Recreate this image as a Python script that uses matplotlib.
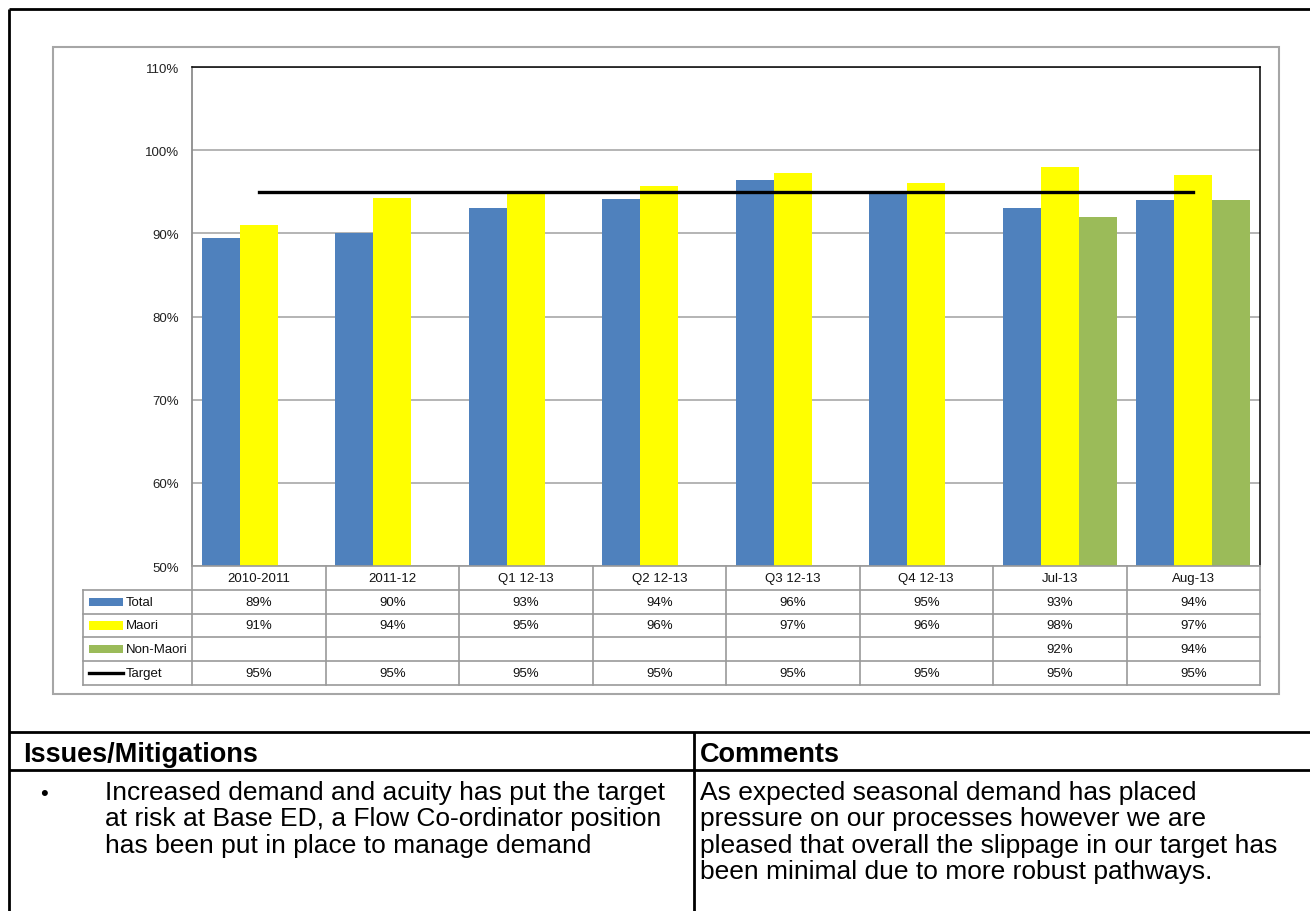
import numpy as np
import matplotlib
matplotlib.use("Agg")
import matplotlib.pyplot as plt
from matplotlib.patches import Rectangle
from matplotlib.lines import Line2D

plt.rcParams["font.family"] = ["Liberation Sans", "DejaVu Sans"]

categories = ["2010-2011", "2011-12", "Q1 12-13", "Q2 12-13", "Q3 12-13", "Q4 12-13", "Jul-13", "Aug-13"]
total = [0.894, 0.901, 0.931, 0.941, 0.964, 0.950, 0.930, 0.940]
maori = [0.910, 0.942, 0.950, 0.957, 0.973, 0.961, 0.980, 0.970]
non_maori = [np.nan, np.nan, np.nan, np.nan, np.nan, np.nan, 0.920, 0.940]
target = [0.95, 0.95, 0.95, 0.95, 0.95, 0.95, 0.95, 0.95]

series_names = ["Total", "Maori", "Non-Maori", "Target"]
series_colors = ["#4F81BD", "#FFFF00", "#9BBB59", "black"]

issues_title = "Issues/Mitigations"
issues_lines = ["Increased demand and acuity has put the target",
                "at risk at Base ED, a Flow Co-ordinator position",
                "has been put in place to manage demand"]
comments_title = "Comments"
comments_lines = ["As expected seasonal demand has placed",
                  "pressure on our processes however we are",
                  "pleased that overall the slippage in our target has",
                  "been minimal due to more robust pathways."]

W, H = 1310, 912
fig = plt.figure(figsize=(W / 100, H / 100), dpi=100)


def fx(x):
    return x / W


def fy(y):
    return 1 - y / H


def fline(x0, y0, x1, y1, color="black", lw=1.5):
    fig.add_artist(Line2D([fx(x0), fx(x1)], [fy(y0), fy(y1)], transform=fig.transFigure,
                          color=color, lw=lw, solid_capstyle="butt"))


# chart frame
fig.add_artist(Rectangle((fx(53), fy(695)), fx(1279) - fx(53), fy(48) - fy(695),
                         transform=fig.transFigure, fill=False, edgecolor="#a6a6a6", lw=1.5))

# main plot
ax = fig.add_axes([fx(192), fy(567), fx(1260) - fx(192), fy(68) - fy(567)])
x = np.arange(len(categories))
bw = 0.285
ax.bar(x - bw, total, bw, color=series_colors[0], zorder=2)
ax.bar(x, maori, bw, color=series_colors[1], zorder=2)
ax.bar(x + bw, non_maori, bw, color=series_colors[2], zorder=2)
ax.plot(x, target, color="black", lw=2.4, zorder=3)
ax.set_xlim(-0.5, len(categories) - 0.5)
ax.set_ylim(0.5, 1.1)
ax.set_yticks(np.arange(0.5, 1.101, 0.1))
ax.set_yticklabels([f"{round(v * 100)}%" for v in np.arange(0.5, 1.101, 0.1)], fontsize=9.5, color="#222222")
ax.set_xticks([])
ax.tick_params(axis="y", length=0, pad=9.5)
ax.yaxis.grid(True, color="#a0a0a0", lw=1.1, zorder=0)
ax.spines["left"].set_color("#8c8c8c")
ax.spines["left"].set_linewidth(1.3)
ax.spines["bottom"].set_visible(False)
for s in ["top", "right"]:
    ax.spines[s].set_color("black")
    ax.spines[s].set_linewidth(1.1)

# data table under the plot
col_px = (1260 - 192) / len(categories)
tleft = -0.5 - (192 - 83) / col_px
tax = fig.add_axes([fx(83), fy(686), fx(1260) - fx(83), fy(567) - fy(686)])
tax.set_xlim(tleft, len(categories) - 0.5)
tax.set_ylim(5, 0)
tax.axis("off")
grid_kw = dict(color="#9a9a9a", lw=1.2, clip_on=False)
tax.plot([-0.5, len(categories) - 0.5], [0, 0], **grid_kw)
for r in range(1, 6):
    tax.plot([tleft, len(categories) - 0.5], [r, r], **grid_kw)
for c in range(len(categories) + 1):
    tax.plot([c - 0.5, c - 0.5], [0, 5], **grid_kw)
tax.plot([tleft, tleft], [1, 5], **grid_kw)

for i, cat in enumerate(categories):
    tax.text(i, 0.5, cat, ha="center", va="center", fontsize=9.5, color="#111111")

rows = [total, maori, non_maori, target]
key_x = tleft + 6 / col_px
key_w = 34 / col_px
for r, (name, color, vals) in enumerate(zip(series_names, series_colors, rows)):
    yc = r + 1.5
    if name == "Target":
        tax.plot([key_x, key_x + key_w], [yc, yc], color=color, lw=2.4, clip_on=False)
    else:
        tax.add_patch(Rectangle((key_x, yc - 0.17), key_w, 0.34, color=color, lw=0))
    tax.text(tleft + 43 / col_px, yc, name, ha="left", va="center", fontsize=9.5, color="#111111")
    for i, v in enumerate(vals):
        if not np.isnan(v):
            tax.text(i, yc, f"{round(v * 100)}%", ha="center", va="center", fontsize=9.5, color="#111111")

# page borders and comment table
fline(9, 10, W, 10, lw=2)
fline(9, 10, 9, H, lw=2)
fline(9, 733, W, 733, lw=2)
fline(9, 771, W, 771, lw=2)
fline(694, 733, 694, H, lw=2)

fig.text(fx(23), fy(762), issues_title, fontsize=19.5, fontweight="bold", va="baseline")
fig.text(fx(700), fy(762), comments_title, fontsize=19.5, fontweight="bold", va="baseline")
fig.text(fx(40), fy(800), "\u2022", fontsize=16, va="baseline")
for k, line in enumerate(issues_lines):
    fig.text(fx(105), fy(800 + 26.5 * k), line, fontsize=19, va="baseline")
for k, line in enumerate(comments_lines):
    fig.text(fx(700), fy(800 + 26.5 * k), line, fontsize=19, va="baseline")

fig.savefig("out.png", dpi=100)
